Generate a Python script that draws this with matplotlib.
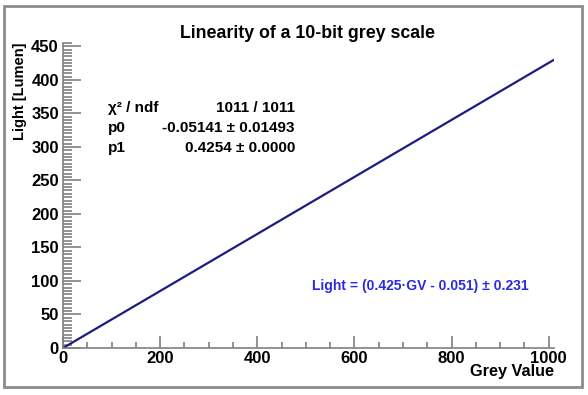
import matplotlib
matplotlib.use('Agg')
import matplotlib.pyplot as plt
from matplotlib.patches import Rectangle
from matplotlib.ticker import MultipleLocator

plt.rcParams['font.family'] = ['Liberation Sans', 'DejaVu Sans']
plt.rcParams['font.weight'] = 'bold'

# fit line end points (grey value -> light)
grey_value = [0, 1011]
light = [-0.05, 430.0]

# fit statistics box
stat_names = ['χ² / ndf', 'p0', 'p1']
stat_values = ['1011 / 1011', '-0.05141 ± 0.01493', '0.4254 ± 0.0000']

W, H = 588, 395
fig = plt.figure(figsize=(W / 100, H / 100), dpi=100)

# grey frame around the canvas
fig.patches.append(Rectangle((4 / W, 1 - 387 / H), 578 / W, 381 / H,
                             transform=fig.transFigure, fill=False,
                             edgecolor='#8c8c8c', linewidth=2))

ax = fig.add_axes([63 / W, 1 - 348 / H, (554 - 63) / W, (348 - 43) / H])
ax.plot(grey_value, light, color='#1c1c80', linewidth=1.6)

ax.set_xlim(0, 1011)
ax.set_ylim(0, 455)
ax.xaxis.set_major_locator(MultipleLocator(200))
ax.xaxis.set_minor_locator(MultipleLocator(50))
ax.yaxis.set_major_locator(MultipleLocator(50))
ax.yaxis.set_minor_locator(MultipleLocator(5))

for s in ['top', 'right']:
    ax.spines[s].set_visible(False)
for s in ['left', 'bottom']:
    ax.spines[s].set_color('#808080')
    ax.spines[s].set_linewidth(1.2)

ax.tick_params(axis='x', which='major', direction='in', length=9, width=1.2,
               color='#808080', labelsize=12, pad=2)
ax.tick_params(axis='x', which='minor', direction='in', length=4, width=1.2,
               color='#808080')
ax.tick_params(axis='y', which='major', direction='in', length=13, width=1.2,
               color='#808080', labelsize=12, pad=3)
ax.tick_params(axis='y', which='minor', direction='in', length=6.5, width=1.2,
               color='#808080')

ax.set_xlabel('Grey Value', fontsize=11.7, fontweight='bold', loc='right', labelpad=-1)
ax.set_ylabel('Light [Lumen]', fontsize=10.5, fontweight='bold', loc='top', labelpad=3)

fig.text(308 / W, 1 - 33 / H, 'Linearity of a 10-bit grey scale', ha='center',
         va='center', fontsize=12.8, fontweight='bold')

for i, (name, val) in enumerate(zip(stat_names, stat_values)):
    y = 1 - (108 + 20 * i) / H
    fig.text(108 / W, y, name, ha='left', va='center', fontsize=11, fontweight='bold')
    fig.text(295 / W, y, val, ha='right', va='center', fontsize=11, fontweight='bold')

fig.text(420 / W, 1 - 286 / H, 'Light = (0.425·GV - 0.051) ± 0.231',
         ha='center', va='center', fontsize=10, fontweight='bold', color='#2a2ae0')

fig.savefig('out.png', dpi=100)
